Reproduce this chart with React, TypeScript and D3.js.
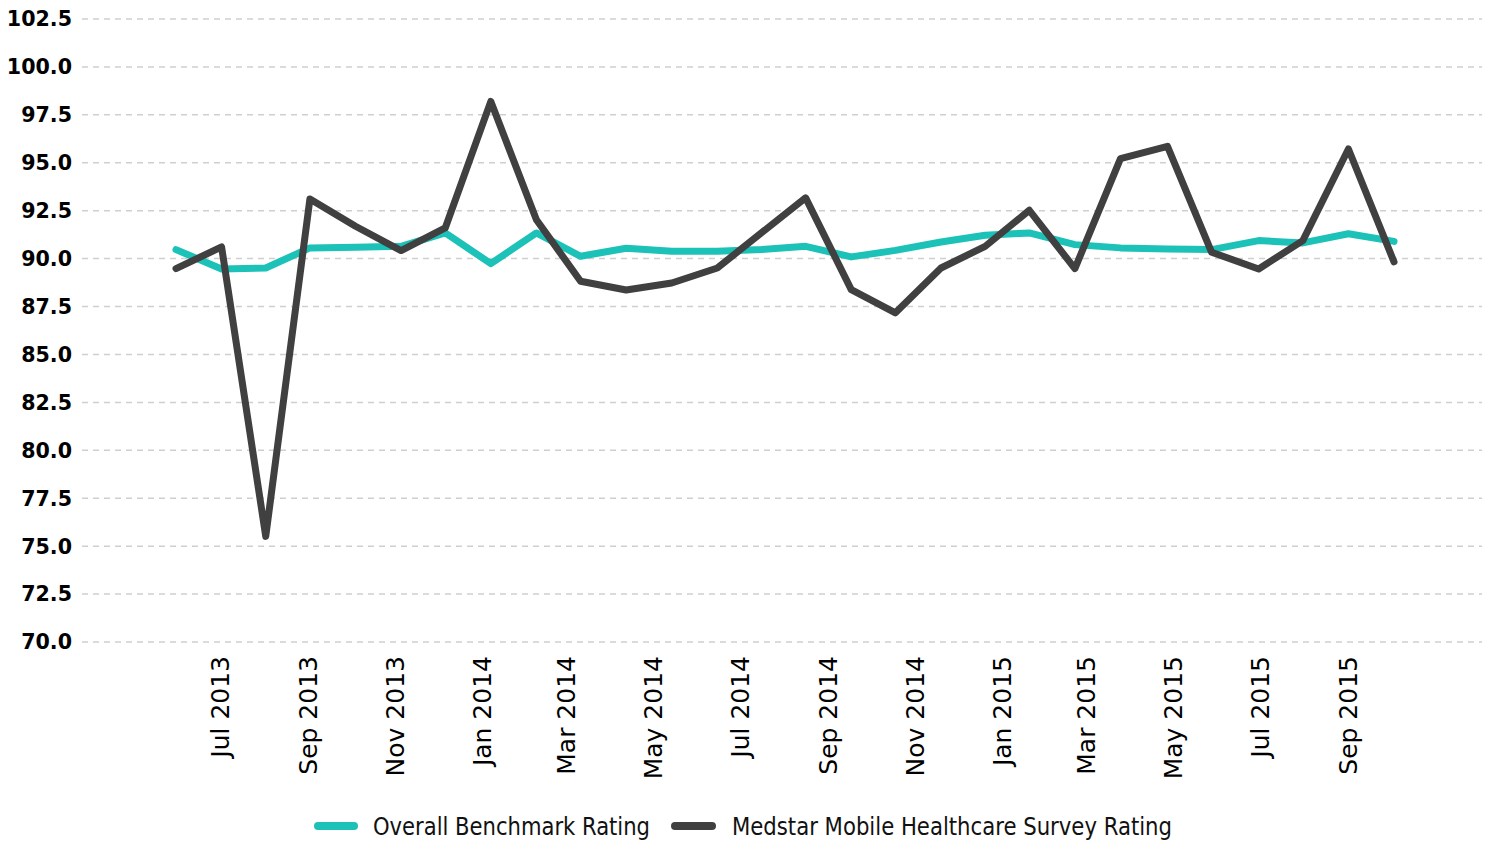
import { useEffect, useRef } from 'react';
import * as d3 from 'd3';

// survey dates (roughly monthly)
const surveyDates = [
    '2013-05-31', '2013-07-02', '2013-08-02', '2013-09-02', '2013-10-04', '2013-11-05', '2013-12-06',
    '2014-01-07', '2014-02-08', '2014-03-11', '2014-04-12', '2014-05-14', '2014-06-15', '2014-07-16',
    '2014-08-16', '2014-09-17', '2014-10-18', '2014-11-19', '2014-12-20', '2015-01-20', '2015-02-21',
    '2015-03-25', '2015-04-27', '2015-05-28', '2015-06-30', '2015-07-31', '2015-09-01', '2015-10-03',
];

const benchmarkRating = [
    90.47, 89.46, 89.51, 90.56, 90.59, 90.64, 91.34, 89.74, 91.34, 90.12, 90.54, 90.38, 90.38, 90.47,
    90.64, 90.09, 90.43, 90.87, 91.22, 91.34, 90.73, 90.56, 90.5, 90.47, 90.94, 90.82, 91.3, 90.9,
];

const medstarRating = [
    89.48, 90.61, 75.51, 93.11, 91.69, 90.42, 91.6, 98.2, 92.03, 88.82, 88.36, 88.73, 89.51, 91.35,
    93.17, 88.38, 87.17, 89.51, 90.64, 92.52, 89.48, 95.22, 95.86, 90.33, 89.46, 90.94, 95.72, 89.83,
];

const yTicks = [70, 72.5, 75, 77.5, 80, 82.5, 85, 87.5, 90, 92.5, 95, 97.5, 100, 102.5];

const seriesNames = ['Overall Benchmark Rating', 'Medstar Mobile Healthcare Survey Rating'];
const seriesColors = ['#1cc1b7', '#404040'];

const W = 1491;
const H = 842;

const App = () => {
    const svgRef = useRef<SVGSVGElement>(null);

    useEffect(() => {
        const svg = d3.select(svgRef.current);
        svg.selectAll('*').remove();

        const parse = d3.timeParse('%Y-%m-%d');
        const dates = surveyDates.map(d => parse(d) as Date);

        const gridLeft = 82;
        const gridRight = 1482;

        const x = d3.scaleTime()
            .domain(d3.extent(dates) as [Date, Date])
            .range([176, 1394]);

        const y = d3.scaleLinear()
            .domain([70, 102.5])
            .range([642, 19]);

        // grid lines
        svg.append('g')
            .selectAll('line')
            .data(yTicks)
            .enter()
            .append('line')
            .attr('x1', gridLeft)
            .attr('x2', gridRight)
            .attr('y1', d => y(d))
            .attr('y2', d => y(d))
            .attr('stroke', '#cfcfcf')
            .attr('stroke-width', 1.5)
            .attr('stroke-dasharray', '6,5');

        // y labels
        svg.append('g')
            .selectAll('text')
            .data(yTicks)
            .enter()
            .append('text')
            .attr('x', 72)
            .attr('y', d => y(d))
            .attr('dy', '0.36em')
            .attr('text-anchor', 'end')
            .attr('fill', '#000')
            .style('font-family', '"DejaVu Sans", sans-serif')
            .style('font-weight', 'bold')
            .style('font-size', '20.6px')
            .text(d => d.toFixed(1));

        // x labels
        const fmt = d3.timeFormat('%b %Y');
        svg.append('g')
            .selectAll('text')
            .data(x.ticks(d3.timeMonth.every(2) as d3.TimeInterval))
            .enter()
            .append('text')
            .attr('transform', d => `translate(${x(d)},656) rotate(-90)`)
            .attr('dy', '0.36em')
            .attr('text-anchor', 'end')
            .attr('fill', '#000')
            .style('font-family', '"DejaVu Sans", sans-serif')
            .style('font-size', '25px')
            .text(d => fmt(d));

        // lines
        const line = d3.line<number>()
            .x((_, i) => x(dates[i]))
            .y(d => y(d));

        [benchmarkRating, medstarRating].forEach((values, k) => {
            svg.append('path')
                .datum(values)
                .attr('d', line)
                .attr('fill', 'none')
                .attr('stroke', seriesColors[k])
                .attr('stroke-width', 7)
                .attr('stroke-linejoin', 'round')
                .attr('stroke-linecap', 'round');
        });

        // legend
        const legend = [
            { x1: 318, x2: 354, tx: 373, len: 277 },
            { x1: 675, x2: 712, tx: 732, len: 440 },
        ];
        legend.forEach((l, k) => {
            svg.append('line')
                .attr('x1', l.x1)
                .attr('x2', l.x2)
                .attr('y1', 826)
                .attr('y2', 826)
                .attr('stroke', seriesColors[k])
                .attr('stroke-width', 8)
                .attr('stroke-linecap', 'round');
            svg.append('text')
                .attr('x', l.tx)
                .attr('y', 826)
                .attr('dy', '0.36em')
                .attr('fill', '#111')
                .attr('textLength', l.len)
                .attr('lengthAdjust', 'spacingAndGlyphs')
                .style('font-family', '"DejaVu Sans Condensed", "Liberation Sans Narrow", sans-serif')
                .style('font-size', '24px')
                .text(seriesNames[k]);
        });
    }, []);

    return (
        <div style={{ position: 'absolute', left: 0, top: 0 }}>
            <svg ref={svgRef} width={W} height={H} style={{ display: 'block', background: '#fff' }} />
        </div>
    );
};

export default App;
